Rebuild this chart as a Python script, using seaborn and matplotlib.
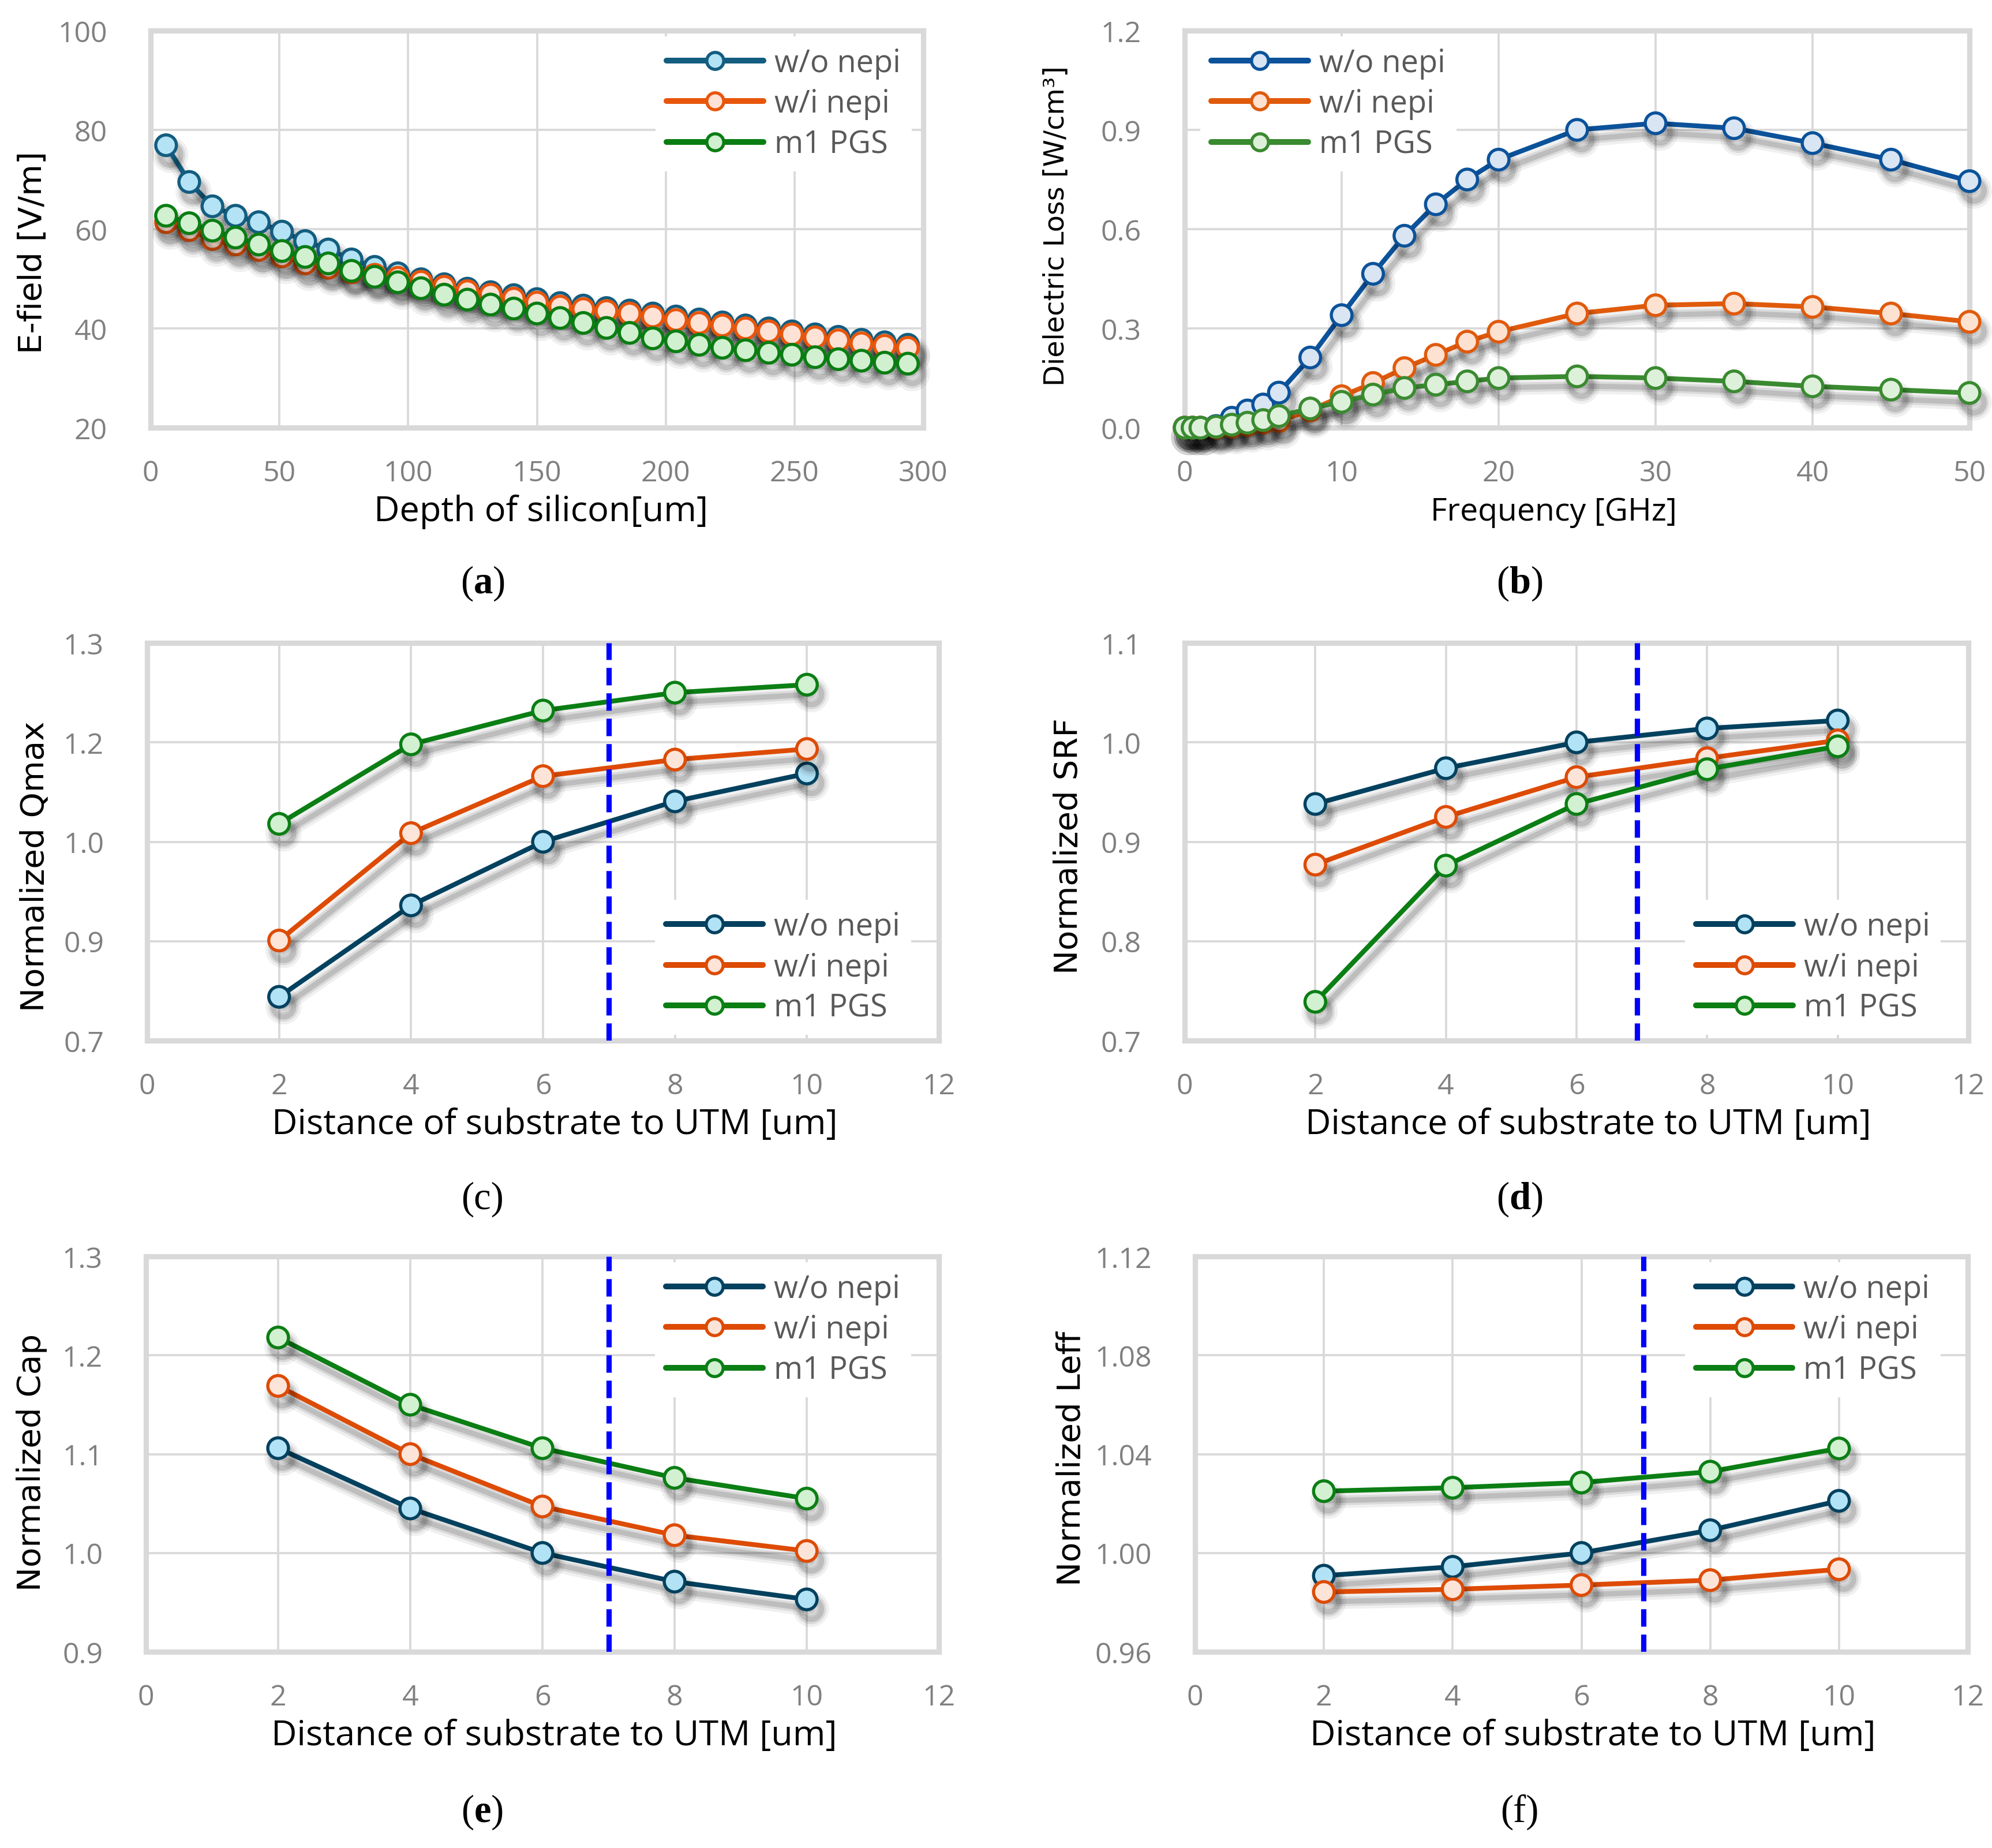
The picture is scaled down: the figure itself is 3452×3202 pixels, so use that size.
import numpy as np
import pandas as pd
import matplotlib
matplotlib.use("Agg")
import matplotlib.pyplot as plt
import matplotlib.patheffects as pe
from matplotlib.lines import Line2D
import seaborn as sns

sns.set_theme(style="white")
plt.rcParams['font.family'] = ['Open Sans', 'DejaVu Sans']
plt.rcParams['mathtext.fontset'] = 'custom'
plt.rcParams['mathtext.rm'] = 'Liberation Serif'
plt.rcParams['mathtext.bf'] = 'Liberation Serif:bold'

series_names = ["w/o nepi", "w/i nepi", "m1 PGS"]

# ---------------- (a) E-field vs depth ----------------
a_depth = [6, 15, 24, 33, 42, 51, 60, 69, 78, 87, 96, 105, 114, 123, 132, 141,
           150, 159, 168, 177, 186, 195, 204, 213, 222, 231, 240, 249, 258, 267,
           276, 285, 294]
a_wo = [76.9, 69.5, 64.6, 62.7, 61.4, 59.5, 57.6, 55.9, 53.9, 52.4, 51.1, 49.9,
        48.9, 48.0, 47.3, 46.7, 45.9, 45.1, 44.6, 44.1, 43.6, 43.0, 42.4, 41.8,
        41.2, 40.6, 40.0, 39.4, 38.8, 38.3, 37.7, 37.2, 36.7]
a_wi = [61.4, 59.8, 58.0, 56.9, 55.8, 54.5, 53.1, 52.2, 51.3, 50.8, 50.2, 49.4,
        48.4, 47.5, 46.8, 46.0, 45.2, 44.4, 43.9, 43.5, 43.0, 42.4, 41.7, 41.1,
        40.6, 40.0, 39.4, 38.8, 38.2, 37.6, 37.0, 36.5, 36.1]
a_pgs = [62.7, 61.2, 59.7, 58.3, 56.9, 55.6, 54.4, 53.1, 51.6, 50.4, 49.3, 48.1,
         46.8, 45.8, 44.8, 44.0, 43.0, 42.1, 41.1, 40.1, 39.1, 38.0, 37.4, 36.7,
         36.1, 35.6, 35.1, 34.7, 34.2, 33.8, 33.5, 33.1, 32.9]

# ---------------- (b) Dielectric loss vs frequency ----------------
b_freq = [0, 0.5, 1, 2, 3, 4, 5, 6, 8, 10, 12, 14, 16, 18, 20, 25, 30, 35, 40, 45, 50]
b_wo = [0.0, 0.0, 0.0, 0.005, 0.03, 0.052, 0.07, 0.106, 0.212, 0.34, 0.465, 0.58,
        0.675, 0.75, 0.81, 0.90, 0.92, 0.905, 0.86, 0.81, 0.745]
b_wi = [0.0, 0.0, 0.0, 0.0, 0.003, 0.008, 0.015, 0.02, 0.052, 0.095, 0.135, 0.18,
        0.22, 0.26, 0.29, 0.345, 0.37, 0.375, 0.365, 0.345, 0.32]
b_pgs = [0.0, 0.0, 0.0, 0.003, 0.009, 0.015, 0.023, 0.035, 0.058, 0.078, 0.10,
         0.12, 0.13, 0.14, 0.15, 0.155, 0.15, 0.14, 0.125, 0.115, 0.105]

# ---------------- (c)-(f) vs distance ----------------
dist = [2, 4, 6, 8, 10]
c_wo = [0.766, 0.904, 1.0, 1.061, 1.103]
c_wi = [0.851, 1.013, 1.099, 1.124, 1.140]
c_pgs = [1.027, 1.147, 1.198, 1.225, 1.237]
c_yticks = [0.7, 0.85, 1.0, 1.15, 1.3]
c_yticklabels = ["0.7", "0.9", "1.0", "1.2", "1.3"]

d_wo = [0.938, 0.974, 1.0, 1.014, 1.022]
d_wi = [0.877, 0.925, 0.965, 0.984, 1.002]
d_pgs = [0.739, 0.876, 0.938, 0.973, 0.996]
d_yticks = [0.7, 0.8, 0.9, 1.0, 1.1]
d_yticklabels = ["0.7", "0.8", "0.9", "1.0", "1.1"]

e_wo = [1.106, 1.045, 1.0, 0.971, 0.953]
e_wi = [1.169, 1.100, 1.047, 1.018, 1.002]
e_pgs = [1.218, 1.150, 1.106, 1.076, 1.055]
e_yticks = [0.9, 1.0, 1.1, 1.2, 1.3]
e_yticklabels = ["0.9", "1.0", "1.1", "1.2", "1.3"]

f_wo = [0.9908, 0.9944, 1.0, 1.0092, 1.0211]
f_wi = [0.9842, 0.9853, 0.9870, 0.9890, 0.9934]
f_pgs = [1.0250, 1.0264, 1.0285, 1.0329, 1.0423]
f_yticks = [0.96, 1.00, 1.04, 1.08, 1.12]
f_yticklabels = ["0.96", "1.00", "1.04", "1.08", "1.12"]

dist_xticks = [0, 2, 4, 6, 8, 10, 12]
cutoff = {"c": 7.0, "d": 6.93, "e": 7.0, "f": 6.96}

# ---------------- styles ----------------
pal_a = dict(lines=["#135D80", "#E8560C", "#0A7D12"], fills=["#B3E3F5", "#FFE2D6", "#D0F0D0"])
pal_b = dict(lines=["#0B529A", "#E05A0C", "#3A8A30"], fills=["#D9E5F3", "#FDE2D2", "#DDF0DA"])
pal_c = dict(lines=["#03415F", "#DD4B05", "#0B7E14"], fills=["#B2E2F5", "#FDE4D8", "#D1F1D0"])

LW = 2.0
MS = 8.6
MEW = 1.3
TICK_COLOR = "#808080"
GRID_COLOR = "#D9D9D9"


def shadow():
    off = (1.8, -4.0)
    return [pe.SimpleLineShadow(offset=off, shadow_color="black", alpha=0.06, linewidth=LW * 3.2),
            pe.SimpleLineShadow(offset=off, shadow_color="black", alpha=0.09, linewidth=LW * 2.0),
            pe.SimpleLineShadow(offset=off, shadow_color="black", alpha=0.13, linewidth=LW * 1.1),
            pe.Normal()]


def draw(ax, x, ys, pal):
    for name, y, c, f in zip(series_names, ys, pal["lines"], pal["fills"]):
        df = pd.DataFrame({"x": x, "y": y})
        sns.lineplot(data=df, x="x", y="y", ax=ax, color=c, linewidth=LW,
                     marker="o", markersize=MS, markerfacecolor=f,
                     markeredgecolor=c, markeredgewidth=MEW,
                     estimator=None, sort=False, legend=False, zorder=3,
                     clip_on=False, path_effects=shadow())


def legend(ax, pal, loc, anchor):
    handles = [Line2D([], [], color=c, lw=LW + 0.4, marker="o", markersize=MS * 0.82,
                      markerfacecolor=f, markeredgecolor=c, markeredgewidth=MEW)
               for c, f in zip(pal["lines"], pal["fills"])]
    ax.legend(handles, series_names, loc=loc, bbox_to_anchor=anchor,
              frameon=True, facecolor="white", edgecolor="none", framealpha=1,
              fancybox=False, fontsize=13, labelcolor="#595959",
              handlelength=3.1, handletextpad=0.35, labelspacing=0.28,
              borderpad=0.35, borderaxespad=0.0)


def style(ax, xlim, xticks, ylim, yticks, yticklabels, xlabel, ylabel,
          xl_x, yl_x, yl_y, xl_size=14.7, yl_size=13.5):
    ax.set_xlim(*xlim)
    ax.set_ylim(*ylim)
    ax.set_xticks(xticks)
    ax.set_xticklabels([str(t) for t in xticks])
    ax.set_yticks(yticks)
    ax.set_yticklabels(yticklabels)
    ax.grid(True, color=GRID_COLOR, linewidth=0.9)
    ax.set_axisbelow(True)
    for s in ax.spines.values():
        s.set_visible(True)
        s.set_color(GRID_COLOR)
        s.set_linewidth(2.2)
    ax.tick_params(axis="both", length=0, labelsize=12, labelcolor=TICK_COLOR)
    ax.tick_params(axis="x", pad=13)
    ax.tick_params(axis="y", pad=18)
    ax.set_xlabel(xlabel, fontsize=xl_size, color="black", va="center")
    ax.xaxis.set_label_coords(xl_x, -0.211)
    ax.set_ylabel(ylabel, fontsize=yl_size, color="black", va="center",
                  fontfamily="DejaVu Sans")
    ax.yaxis.set_label_coords(yl_x, yl_y)


W, H = 3452, 3203
fig = plt.figure(figsize=(W / 300, H / 300), dpi=300)
fig.patch.set_facecolor("white")


def add_axes(l, r, t, b):
    return fig.add_axes([l / W, 1 - b / H, (r - l) / W, (b - t) / H])


ax_a = add_axes(261, 1600, 54, 742)
ax_b = add_axes(2053, 3413, 54, 742)
ax_c = add_axes(255, 1627, 1115, 1804)
ax_d = add_axes(2053, 3411, 1115, 1804)
ax_e = add_axes(253, 1627, 2178, 2863)
ax_f = add_axes(2071, 3410, 2178, 2863)

# (a)
draw(ax_a, a_depth, [a_wo, a_wi, a_pgs], pal_a)
style(ax_a, (0, 300), [0, 50, 100, 150, 200, 250, 300], (20, 100),
      [20, 40, 60, 80, 100], ["20", "40", "60", "80", "100"],
      "Depth of silicon[um]", "E-field [V/m]", 0.505, -0.152, 0.443)
legend(ax_a, pal_a, "upper right", (0.985, 0.985))

# (b)
draw(ax_b, b_freq, [b_wo, b_wi, b_pgs], pal_b)
style(ax_b, (0, 50), [0, 10, 20, 30, 40, 50], (0, 1.2),
      [0, 0.3, 0.6, 0.9, 1.2], ["0.0", "0.3", "0.6", "0.9", "1.2"],
      "Frequency [GHz]", "Dielectric Loss [W/cm³]", 0.47, -0.164, 0.51,
      xl_size=13.3, yl_size=11.5)
legend(ax_b, pal_b, "upper left", (0.02, 0.985))

# (c)-(f)
panels = [
    (ax_c, [c_wo, c_wi, c_pgs], (0.7, 1.3), c_yticks, c_yticklabels,
     "Normalized Qmax", "c", "lower right", (0.965, 0.015), -0.142, 0.44),
    (ax_d, [d_wo, d_wi, d_pgs], (0.7, 1.1), d_yticks, d_yticklabels,
     "Normalized SRF", "d", "lower right", (0.965, 0.015), -0.148, 0.49),
    (ax_e, [e_wo, e_wi, e_pgs], (0.9, 1.3), e_yticks, e_yticklabels,
     "Normalized Cap", "e", "upper right", (0.965, 0.985), -0.144, 0.48),
    (ax_f, [f_wo, f_wi, f_pgs], (0.96, 1.12), f_yticks, f_yticklabels,
     "Normalized Leff", "f", "upper right", (0.965, 0.985), -0.16, 0.49),
]
for ax, ys, ylim, yt, ytl, ylab, key, lloc, lanc, ylx, yly in panels:
    draw(ax, dist, ys, pal_c)
    style(ax, (0, 12), dist_xticks, ylim, yt, ytl,
          "Distance of substrate to UTM [um]", ylab, 0.515, ylx, yly)
    ax.axvline(cutoff[key], color="#0000FF", linewidth=2.2,
               linestyle=(0, (3.3, 1.5)), zorder=4)
    legend(ax, pal_c, lloc, lanc)

# panel letters
letters = [("a", True, 836, 1011), ("b", True, 2633, 1011),
           ("c", False, 836, 2078), ("d", True, 2633, 2078),
           ("e", True, 836, 3140), ("f", False, 2633, 3140)]
for ch, bold, px, py in letters:
    inner = r"$\mathbf{%s}$" % ch if bold else ch
    fig.text(px / W, 1 - py / H, "(" + inner + ")", ha="center", va="center",
             fontsize=16, fontfamily="Liberation Serif", color="black")

fig.savefig("out.png", dpi=300, facecolor="white")
